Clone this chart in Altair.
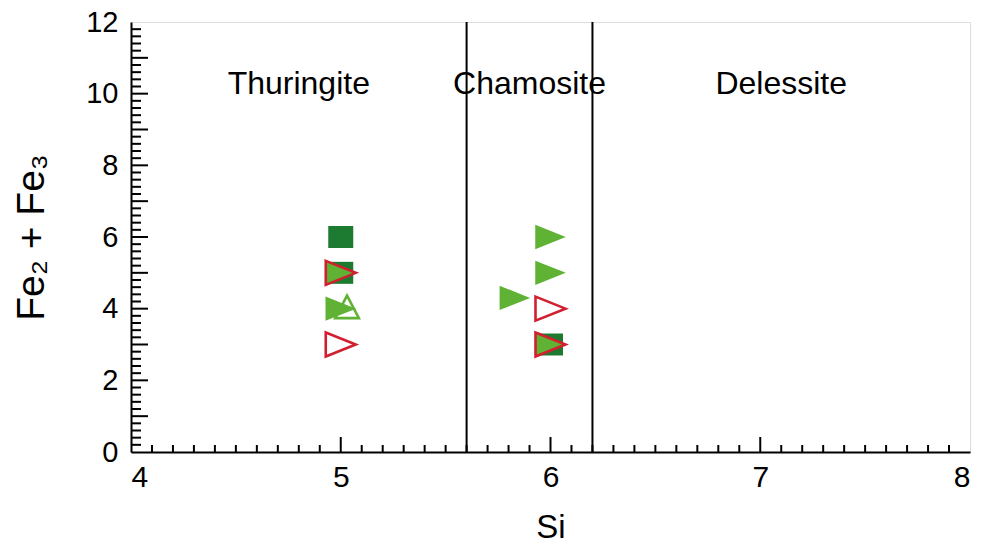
import altair as alt
import pandas as pd

# ---- data ----
sq_x = [5.0, 5.0, 6.0]
sq_y = [6.0, 5.0, 3.0]

tri_fill_x = [5.0, 5.0, 6.0, 6.0, 5.83, 6.0]
tri_fill_y = [5.0, 4.0, 6.0, 5.0, 4.3, 3.0]

tri_open_x = [5.0, 5.0, 6.0, 6.0]
tri_open_y = [5.0, 3.0, 4.0, 3.0]

up_open_x = [5.03]
up_open_y = [4.05]

boundaries = [5.6, 6.2]
region_names = ["Thuringite", "Chamosite", "Delessite"]
region_x = [4.8, 5.9, 7.1]
region_y = [10.0, 10.0, 10.0]

x_major = [5, 6, 7]
x_minor = [round(4 + i * 0.1, 1) for i in range(1, 40) if i % 10 != 0]
y_major = list(range(1, 12))
y_minor = [round(i * 0.2, 1) for i in range(1, 60) if i % 5 != 0]

W, H = 839, 430
FONT = "Liberation Sans"

dark_green = "#1d7a31"
light_green = "#5fb233"
red = "#d21f2f"

xs = alt.Scale(domain=[4, 8], nice=False, zero=False)
ys = alt.Scale(domain=[0, 12], nice=False, zero=False)

xaxis = alt.Axis(values=[4, 5, 6, 7, 8], format="d", ticks=False, grid=False,
                 labelFontSize=30, labelPadding=10, labelFont=FONT, labelColor="black",
                 domainColor="black", domainWidth=2,
                 title="Si", titleFontSize=33, titleFont=FONT, titleFontWeight="normal",
                 titleColor="black", titleY=85, titleBaseline="alphabetic")
yaxis = alt.Axis(values=[0, 2, 4, 6, 8, 10, 12], format="d", ticks=False, grid=False,
                 labelFontSize=29, labelPadding=13, labelFont=FONT, labelColor="black",
                 domainColor="black", domainWidth=2,
                 title="Fe₂ + Fe₃", titleFontSize=39, titleFont=FONT, titleFontWeight="normal",
                 titleColor="black", titleX=-88, titleBaseline="alphabetic")

base_axes = alt.Chart(pd.DataFrame({"x": [4.0], "y": [0.0]})).mark_point(opacity=0).encode(
    x=alt.X("x:Q", scale=xs, axis=xaxis),
    y=alt.Y("y:Q", scale=ys, axis=yaxis),
)

def xticks(vals, length):
    return alt.Chart(pd.DataFrame({"v": vals})).mark_rule(color="black", strokeWidth=2).encode(
        x=alt.X("v:Q", scale=xs),
        y=alt.value(H),
        y2=alt.value(H - length),
    )

def yticks(vals, length):
    return alt.Chart(pd.DataFrame({"v": vals})).mark_rule(color="black", strokeWidth=2).encode(
        y=alt.Y("v:Q", scale=ys),
        x=alt.value(0),
        x2=alt.value(length),
    )

bounds = alt.Chart(pd.DataFrame({"b": boundaries})).mark_rule(color="black", strokeWidth=2).encode(
    x=alt.X("b:Q", scale=xs),
    y=alt.value(0),
    y2=alt.value(H),
)

labels = alt.Chart(pd.DataFrame({"n": region_names, "x": region_x, "y": region_y})).mark_text(
    font=FONT, fontSize=32, color="black", align="center", baseline="alphabetic"
).encode(
    x=alt.X("x:Q", scale=xs),
    y=alt.Y("y:Q", scale=ys),
    text="n:N",
)

sq_shape = "M-1,-0.88L1,-0.88L1,0.88L-1,0.88Z"
tri_shape = "M-1,-0.8L1,0L-1,0.8Z"
up_shape = "M0,-0.95L1,0.95L-1,0.95Z"

squares = alt.Chart(pd.DataFrame({"x": sq_x, "y": sq_y})).mark_point(
    shape=sq_shape, size=625, filled=True, color=dark_green, opacity=1, strokeWidth=0
).encode(x=alt.X("x:Q", scale=xs), y=alt.Y("y:Q", scale=ys))

tri_fill = alt.Chart(pd.DataFrame({"x": tri_fill_x, "y": tri_fill_y})).mark_point(
    shape=tri_shape, size=930, filled=True, color=light_green, opacity=1, strokeWidth=0
).encode(x=alt.X("x:Q", scale=xs), y=alt.Y("y:Q", scale=ys))

tri_open = alt.Chart(pd.DataFrame({"x": tri_open_x, "y": tri_open_y})).mark_point(
    shape=tri_shape, size=900, filled=False, color=red, opacity=1, strokeWidth=2.6
).encode(x=alt.X("x:Q", scale=xs), y=alt.Y("y:Q", scale=ys))

up_open = alt.Chart(pd.DataFrame({"x": up_open_x, "y": up_open_y})).mark_point(
    shape=up_shape, size=560, filled=False, color=light_green, opacity=1, strokeWidth=2.6
).encode(x=alt.X("x:Q", scale=xs), y=alt.Y("y:Q", scale=ys))

chart = alt.layer(
    base_axes,
    xticks(x_minor, 7), xticks(x_major, 15),
    yticks(y_minor, 10), yticks(y_major, 17),
    bounds, labels,
    squares, tri_fill, tri_open, up_open,
).properties(
    width=W, height=H,
    autosize=alt.AutoSizeParams(type="none"),
    padding={"left": 123, "top": 14, "right": 4, "bottom": 88},
).configure_view(
    stroke="black", strokeWidth=2
).configure(background="white")

chart.save("out.html", embed_options={"renderer": "svg", "actions": False})
